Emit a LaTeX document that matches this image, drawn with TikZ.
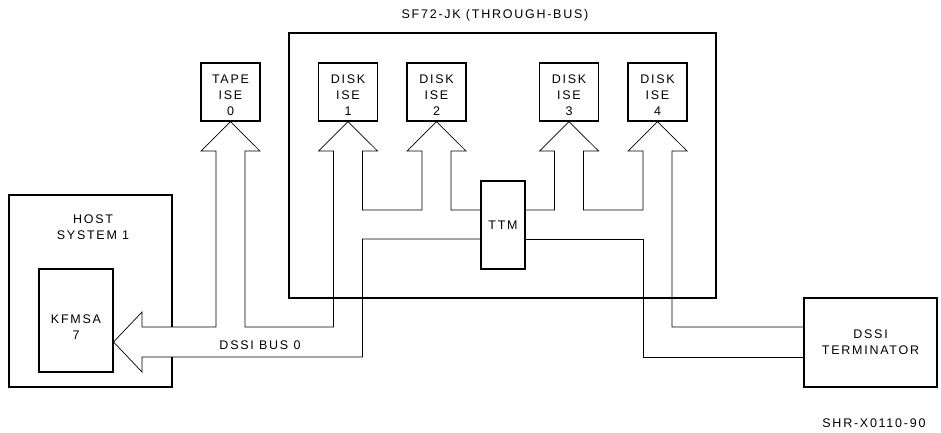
\documentclass[tikz,border=0pt]{standalone}
\usepackage{fontspec}
\setmainfont{Liberation Sans}[LetterSpace=14]
\usetikzlibrary{positioning}

\begin{document}
\begin{tikzpicture}[x=1pt, y=-1pt,
		every node/.style={font=\fontsize{12.5}{16}\selectfont, align=center},
		box/.style={draw, line width=1.1pt, inner sep=0pt},
		boxtext/.style={label={[yshift=-3.5pt]center:#1}},
		ise/.style={box, minimum width=59pt, minimum height=58pt, boxtext={#1}},
		bus/.style={line width=0.7pt, line join=miter}]
	\useasboundingbox (0,0) rectangle (941,433);
	
	% Contenitore SF72-JK
	\node[box, minimum width=427pt, minimum height=265pt] (sf72) at (502.5,165.5) {};
	\node (sf72lbl) at (495,15) {SF72-JK (THROUGH-BUS)};
	
	% Host e KFMSA
	\node[box, minimum width=163pt, minimum height=192pt] (host) at (90.5,291) {};
	\node (hostlbl) at (93,227) {HOST\\SYSTEM 1};
	\node[box, minimum width=74pt, minimum height=103pt, label={[yshift=-7pt]center:KFMSA\\7}] (kfmsa) at (76,320.5) {};
	\fill[white] (142,327) rectangle (180,357);
	
	% Dispositivi ISE
	\node[ise={TAPE\\ISE\\0}] (tape) at (230.5,92) {};
	\node[ise={DISK\\ISE\\1}] (disk1) at (348,92) {};
	\node[ise={DISK\\ISE\\2}] (disk2) at (436.5,92) {};
	\node[ise={DISK\\ISE\\3}] (disk3) at (569,92) {};
	\node[ise={DISK\\ISE\\4}] (disk4) at (657.5,92) {};
	
	% TTM e terminatore
	\node[box, minimum width=44pt, minimum height=88pt] (ttm) at (503,225) {TTM};
	\node[box, minimum width=133pt, minimum height=89pt] (term) at (870.5,342.5) {DSSI\\TERMINATOR};
	
	% Bus DSSI
	\draw[bus] (ttm.west |- 0,239) -| (362.5,357) -- (142,357) -- (142,372) -- (kfmsa.east |- 0,342) -- (142,312) -- (142,327)
		-- (216,327) -- (216,151) -- (201,151) -- (tape.south) -- (260,151) -- (245,151) -- (245,327)
		-- (333.5,327) -- (333.5,151) -- (318.5,151) -- (disk1.south) -- (377.5,151) -- (362.5,151) -- (362.5,210)
		-- (422,210) -- (422,151) -- (407,151) -- (disk2.south) -- (466,151) -- (451,151) -- (451,210) -- (ttm.west |- 0,210);
	\draw[bus] (ttm.east |- 0,210) -- (554.5,210) -- (554.5,151) -- (539.5,151) -- (disk3.south) -- (598.5,151) -- (583.5,151) -- (583.5,210)
		-- (643,210) -- (643,151) -- (628,151) -- (disk4.south) -- (687,151) -- (672,151) -- (672,327) -- (term.west |- 0,327);
	\draw[bus] (ttm.east |- 0,239) -| (643,357) -- (term.west |- 0,357);
	\node (buslbl) at (260,345) {DSSI BUS 0};
	
	\node[anchor=east] (fig) at (929,423) {SHR-X0110-90};
\end{tikzpicture}
\end{document}
